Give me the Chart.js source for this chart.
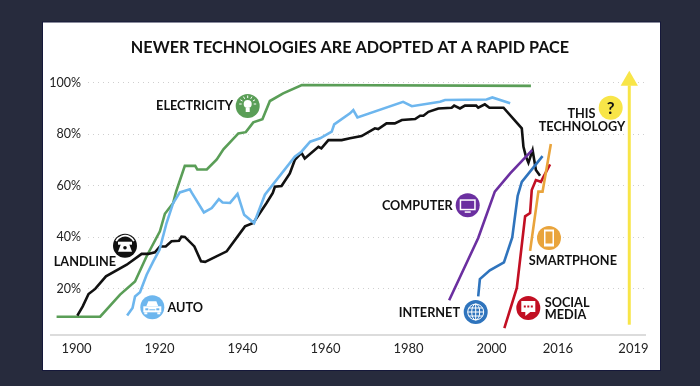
<!DOCTYPE html>
<html>
<head>
<meta charset="utf-8">
<title>Newer technologies are adopted at a rapid pace</title>
<script src="https://cdn.jsdelivr.net/npm/chart.js@4"></script>
<style>
  html, body { margin: 0; background: #272b3d; }
  canvas { display: block; }
</style>
</head>
<body>
<canvas id="chart" width="700" height="386"></canvas>
<script>
const yTicks = [20, 40, 60, 80, 100];
// the last tick is a break in the axis: 2019 sits far right of 2016 in the original
const xTicks = [1900, 1920, 1940, 1960, 1980, 2000, 2016, 2034.2];
const xTickLabels = ["1900", "1920", "1940", "1960", "1980", "2000", "2016", "2019"];

const electricityYears = [1895.2, 1905.7, 1910.5, 1914.1, 1916.9, 1920.1, 1921.3, 1923.3, 1924, 1926.1, 1928.6, 1929.1, 1931.4, 1933.8, 1935.4, 1939, 1940.8, 1942.6, 1944.8, 1946.6, 1949.8, 1954.3, 2009.5];
const electricityValues = [9.1, 9.1, 17.7, 22.8, 32.6, 42.3, 49.1, 53.3, 57.7, 67.7, 67.7, 66.3, 66.3, 70.2, 74.1, 80.3, 80.8, 84.6, 85.8, 92.9, 95.9, 99.1, 98.8];

const landlineYears = [1900.2, 1901.5, 1902.9, 1904.5, 1907.1, 1912.1, 1915.7, 1917.3, 1918.9, 1920.1, 1921.5, 1922.9, 1924.7, 1925.3, 1926.1, 1928.4, 1930, 1931, 1936.2, 1940.6, 1942.6, 1945.8, 1947.3, 1947.8, 1949.4, 1951.4, 1952.6, 1954.2, 1955, 1958.3, 1959, 1960.7, 1963.9, 1965.9, 1968.7, 1971.9, 1972.7, 1974.7, 1976.7, 1978.4, 1981.6, 1982.8, 1983.6, 1984.8, 1987.2, 1990.4, 1991, 1992.4, 1993.6, 1996.3, 1996.8, 1998.4, 1999.5, 2002.9, 2007.3, 2007.7, 2008.3, 2008.9, 2009.9, 2010.7, 2011.7];
const landlineValues = [9.5, 13.1, 17.9, 19.9, 24.8, 29.3, 33.5, 33.5, 34.1, 36.4, 36.4, 38.4, 38.6, 40.2, 40.1, 36.4, 30.6, 30.4, 34.5, 44.2, 45.5, 53.3, 57.2, 59.6, 59.9, 64.8, 70, 72.8, 70.6, 75.1, 74.5, 77.7, 77.7, 78.4, 79.3, 82.3, 82, 84.2, 84.2, 85.5, 85.9, 87.2, 87.2, 88.7, 90, 90.3, 91.1, 90, 91.1, 91.1, 90.3, 91.6, 90.3, 90.3, 82.3, 75.1, 71.3, 68.9, 73.8, 66.1, 63.9];

const autoYears = [1912.2, 1913.5, 1914.1, 1915.3, 1916.9, 1918.5, 1920, 1921.7, 1923.3, 1924.9, 1927.3, 1927.8, 1930.7, 1932.6, 1934.3, 1935.2, 1937, 1938.8, 1940.4, 1942.8, 1945.4, 1952.6, 1954.2, 1956.3, 1958.7, 1961.5, 1962.1, 1965.9, 1966.7, 1967.7, 1978.7, 1980.8, 1987.6, 1988.8, 1998.8, 2000.2, 2004.5];
const autoValues = [9.6, 12.5, 17, 18.6, 25.4, 30.6, 35.1, 45.5, 53.3, 57.4, 58.6, 57.2, 49.6, 51.3, 54.8, 53.5, 53.3, 56.8, 48.7, 45.5, 56.5, 71.3, 73.2, 77.1, 78.4, 81, 83.8, 88.1, 89.4, 86.5, 92.6, 90.9, 92.6, 93.3, 93.5, 94.3, 92];

const computerYears = [1989.8, 1996.8, 2000.8, 2004.5, 2009.8];
const computerValues = [15.5, 39.7, 57.7, 64.8, 73.8];

const internetYears = [1996.8, 1997.2, 1999.6, 2003, 2005, 2006.3, 2007.3, 2012.3];
const internetValues = [17, 23.7, 27.1, 30.2, 39.9, 56, 61.5, 71.5];

const socialYears = [2003.1, 2006.1, 2008.1, 2009.3, 2009.7, 2010.7, 2011.9, 2014.1];
const socialValues = [4.7, 20.3, 48.1, 49.4, 58.3, 62.2, 61.5, 68.3];

const smartphoneYears = [2009.3, 2011.3, 2012.3, 2014.3];
const smartphoneValues = [34.7, 57.7, 57.7, 76.2];

const thisTechYears = [2033.2, 2033.2];
const thisTechValues = [6, 99];
const arrowHeadValues = [null, 100.8];

const toPoints = (xs, ys) => xs.map((x, i) => ({ x, y: ys[i] }));

const line = (label, xs, ys, color, width = 2.6) => ({
  label,
  data: toPoints(xs, ys),
  borderColor: color,
  backgroundColor: color,
  borderWidth: width,
  pointRadius: 0,
  tension: 0,
  clip: false,
});

const labelFont = "700 12.7px Lato, 'Open Sans', sans-serif";

const icons = {
  bulb(c) {
    c.fillStyle = "#fff";
    c.beginPath();
    c.arc(0, -2, 4, 0, Math.PI * 2);
    c.fill();
    c.fillRect(-2, 2, 4, 4);
    c.strokeStyle = "#fff";
    c.lineWidth = 1;
    for (let i = 0; i < 7; i++) {
      const a = Math.PI + (i * Math.PI) / 6;
      c.beginPath();
      c.moveTo(Math.cos(a) * 6, -2 + Math.sin(a) * 6);
      c.lineTo(Math.cos(a) * 8.5, -2 + Math.sin(a) * 8.5);
      c.stroke();
    }
  },
  phone(c) {
    c.strokeStyle = "#fff";
    c.lineWidth = 1.6;
    c.beginPath();
    c.arc(0, 0, 10, Math.PI * 1.15, Math.PI * 1.85);
    c.stroke();
    c.fillStyle = "#fff";
    c.fillRect(-7, -4, 14, 3);
    c.beginPath();
    c.moveTo(-4, -2);
    c.lineTo(4, -2);
    c.lineTo(7, 6);
    c.lineTo(-7, 6);
    c.closePath();
    c.fill();
    c.fillStyle = "#111";
    c.beginPath();
    c.arc(0, 2, 1.8, 0, Math.PI * 2);
    c.fill();
  },
  car(c) {
    c.fillStyle = "#fff";
    c.beginPath();
    c.moveTo(-6, -1);
    c.lineTo(-4, -6);
    c.lineTo(4, -6);
    c.lineTo(6, -1);
    c.closePath();
    c.fill();
    c.fillRect(-9, -1, 18, 6);
    c.fillRect(-8, 5, 3, 2);
    c.fillRect(5, 5, 3, 2);
    c.fillStyle = "#6db6ee";
    c.fillRect(-7, 1, 3, 2);
    c.fillRect(4, 1, 3, 2);
    c.fillRect(-3, 2, 6, 1);
  },
  monitor(c) {
    c.fillStyle = "#fff";
    c.fillRect(-8, -6, 16, 11);
    c.fillRect(-3, 6, 6, 1.5);
    c.fillStyle = "#6b2fa0";
    c.fillRect(-6.5, -4.5, 13, 8);
  },
  globe(c) {
    c.strokeStyle = "#fff";
    c.lineWidth = 1;
    c.beginPath();
    c.arc(0, 0, 8, 0, Math.PI * 2);
    c.moveTo(-8, 0);
    c.lineTo(8, 0);
    c.moveTo(0, -8);
    c.lineTo(0, 8);
    c.moveTo(-7, -4);
    c.lineTo(7, -4);
    c.moveTo(-7, 4);
    c.lineTo(7, 4);
    c.stroke();
    c.beginPath();
    c.ellipse(0, 0, 4, 8, 0, 0, Math.PI * 2);
    c.stroke();
  },
  smartphone(c) {
    c.fillStyle = "#fff";
    c.fillRect(-5, -8.5, 10, 17);
    c.fillStyle = "#e9a43c";
    c.fillRect(-3.5, -6.5, 7, 12);
  },
  bubble(c) {
    c.fillStyle = "#fff";
    c.fillRect(-7, -7, 14, 11);
    c.beginPath();
    c.moveTo(-3, 4);
    c.lineTo(-3, 8);
    c.lineTo(2, 4);
    c.closePath();
    c.fill();
    c.fillStyle = "#c20f23";
    c.fillRect(-4.5, -2.5, 2, 2);
    c.fillRect(-1, -2.5, 2, 2);
    c.fillRect(2.5, -2.5, 2, 2);
  },
  question(c) {
    c.fillStyle = "#111";
    c.font = "700 17px Lato, sans-serif";
    c.textAlign = "center";
    c.textBaseline = "middle";
    c.fillText("?", 0, 0.5);
  },
};

const badges = [
  { x: 247.7, y: 106, color: "#5a9e57", icon: "bulb" },
  { x: 125, y: 245.7, color: "#111", icon: "phone" },
  { x: 152.3, y: 307.3, color: "#6db6ee", icon: "car" },
  { x: 467.7, y: 205.3, color: "#6b2fa0", icon: "monitor" },
  { x: 475.7, y: 312, color: "#2f74bd", icon: "globe" },
  { x: 549, y: 238, color: "#e9a43c", icon: "smartphone" },
  { x: 528.3, y: 308, color: "#c20f23", icon: "bubble" },
  { x: 610.7, y: 107.7, color: "#f8e548", icon: "question" },
];

const callouts = [
  ["ELECTRICITY", 233, 105.5, "right"],
  ["LANDLINE", 116, 262.3, "right"],
  ["AUTO", 167.5, 307.5, "left"],
  ["COMPUTER", 452.7, 205.5, "right"],
  ["INTERNET", 460, 313, "right"],
  ["SMARTPHONE", 528.7, 261, "left"],
  ["SOCIAL", 544.7, 303, "left"],
  ["MEDIA", 544.7, 315.3, "left"],
  ["THIS", 581.5, 114.3, "center"],
  ["TECHNOLOGY", 582, 126.5, "center"],
];

const panel = {
  id: "panel",
  beforeDraw(chart) {
    const c = chart.ctx;
    const { chartArea } = chart;
    c.save();
    c.fillStyle = "#15183a";
    c.fillRect(42, 21.5, 619, 349.5);
    c.fillStyle = "#fff";
    c.fillRect(43, 22.5, 617, 347.5);
    c.fillStyle = "#dcdcdc";
    c.fillRect(50, chartArea.bottom - 1, chartArea.right - 50, 2);
    c.restore();
  },
  afterDatasetsDraw(chart) {
    const c = chart.ctx;
    c.save();
    badges.forEach((b) => {
      c.save();
      c.translate(b.x, b.y);
      c.fillStyle = b.color;
      c.beginPath();
      c.arc(0, 0, 12, 0, Math.PI * 2);
      c.fill();
      icons[b.icon](c);
      c.restore();
    });
    c.fillStyle = "#111";
    c.font = labelFont;
    c.textBaseline = "middle";
    callouts.forEach(([text, x, y, align]) => {
      c.textAlign = align;
      c.fillText(text, x, y);
    });
    c.restore();
  },
};

new Chart(document.getElementById("chart"), {
  type: "line",
  plugins: [panel],
  data: {
    datasets: [
      {
        label: "This technology head",
        data: toPoints(thisTechYears, arrowHeadValues),
        showLine: false,
        pointStyle: "triangle",
        pointRadius: 10,
        pointBackgroundColor: "#f8e548",
        pointBorderWidth: 0,
        clip: false,
      },
      line("This technology", thisTechYears, thisTechValues, "#f8e548", 3),
      line("Smartphone", smartphoneYears, smartphoneValues, "#e9a43c"),
      line("Social media", socialYears, socialValues, "#c20f23"),
      line("Internet", internetYears, internetValues, "#2f74bd"),
      line("Computer", computerYears, computerValues, "#6b2fa0"),
      line("Auto", autoYears, autoValues, "#6db6ee"),
      line("Landline", landlineYears, landlineValues, "#111"),
      line("Electricity", electricityYears, electricityValues, "#5a9e57"),
    ],
  },
  options: {
    responsive: false,
    animation: false,
    plugins: {
      legend: { display: false },
      tooltip: { enabled: false },
      title: {
        display: true,
        text: "NEWER TECHNOLOGIES ARE ADOPTED AT A RAPID PACE",
        color: "#111",
        font: { family: "Lato, 'Open Sans', sans-serif", size: 16.2, weight: "700", lineHeight: 1.2 },
        padding: { top: 38, bottom: 15 },
      },
    },
    scales: {
      x: {
        type: "linear",
        bounds: "data",
        // set here, not as min/max: user bounds make the line skip points left of the axis
        afterBuildTicks: (axis) => {
          axis.min = 1902.77;
          axis.max = 2037.23;
          axis.ticks = xTicks.map((value) => ({ value }));
        },
        afterFit: (axis) => {
          axis.height = 51;
        },
        grid: { display: false, drawTicks: false },
        border: { display: false },
        ticks: {
          autoSkip: false,
          maxRotation: 0,
          padding: 6,
          color: "#222",
          font: { family: "Lato, sans-serif", size: 13 },
          callback: (value, i) => xTickLabels[i],
        },
      },
      y: {
        min: 2,
        max: 104,
        afterBuildTicks: (axis) => {
          axis.ticks = yTicks.map((value) => ({ value }));
        },
        afterFit: (axis) => {
          axis.width = 88;
        },
        grid: { color: "#cfcfcf", drawTicks: false, lineWidth: 1 },
        border: { display: false, dash: [1, 4] },
        ticks: {
          padding: 7,
          color: "#222",
          font: { family: "Lato, sans-serif", size: 12.5 },
          callback: (value) => value + "%",
        },
      },
      // empty axis that keeps the right margin, so the title centres on the whole panel
      spacer: {
        position: "right",
        display: true,
        afterFit: (axis) => {
          axis.width = 54;
        },
        grid: { display: false },
        border: { display: false },
        ticks: { display: false },
      },
    },
  },
});
</script>
</body>
</html>
